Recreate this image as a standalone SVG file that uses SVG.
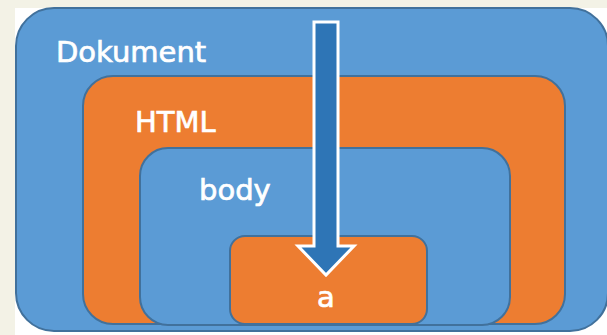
<svg xmlns="http://www.w3.org/2000/svg" width="607" height="335" viewBox="0 0 607 335">
<style>
.box{stroke:#41719c;stroke-width:2}
.blue{fill:#5b9bd5}
.orange{fill:#ed7d31}
.lbl{font-family:"DejaVu Sans",sans-serif;font-size:29px;fill:#ffffff;stroke:#ffffff;stroke-width:0.7}
</style>
<rect x="0" y="0" width="607" height="335" fill="#f3f2e6"/>
<rect x="15" y="8" width="592" height="327" fill="#ffffff"/>
<g id="dokument">
<rect class="box blue" x="16" y="8" width="592" height="323" rx="38"/>
<text class="lbl" x="56" y="62">Dokument</text>
</g>
<g id="html">
<rect class="box orange" x="83" y="76" width="482" height="248" rx="30"/>
<text class="lbl" x="135" y="132">HTML</text>
</g>
<g id="body">
<rect class="box blue" x="140" y="148" width="370" height="177" rx="28"/>
<text class="lbl" x="199" y="200">body</text>
</g>
<g id="a">
<rect class="box orange" x="230" y="236" width="197" height="88" rx="15"/>
<text class="lbl" x="326" y="307" text-anchor="middle">a</text>
</g>
<g id="connectors">
<polygon points="314,22 338,22 338,246 354,246 326,275 298,246 314,246" fill="#2e75b6" stroke="#ffffff" stroke-width="3" stroke-linejoin="miter"/>
</g>
</svg>
